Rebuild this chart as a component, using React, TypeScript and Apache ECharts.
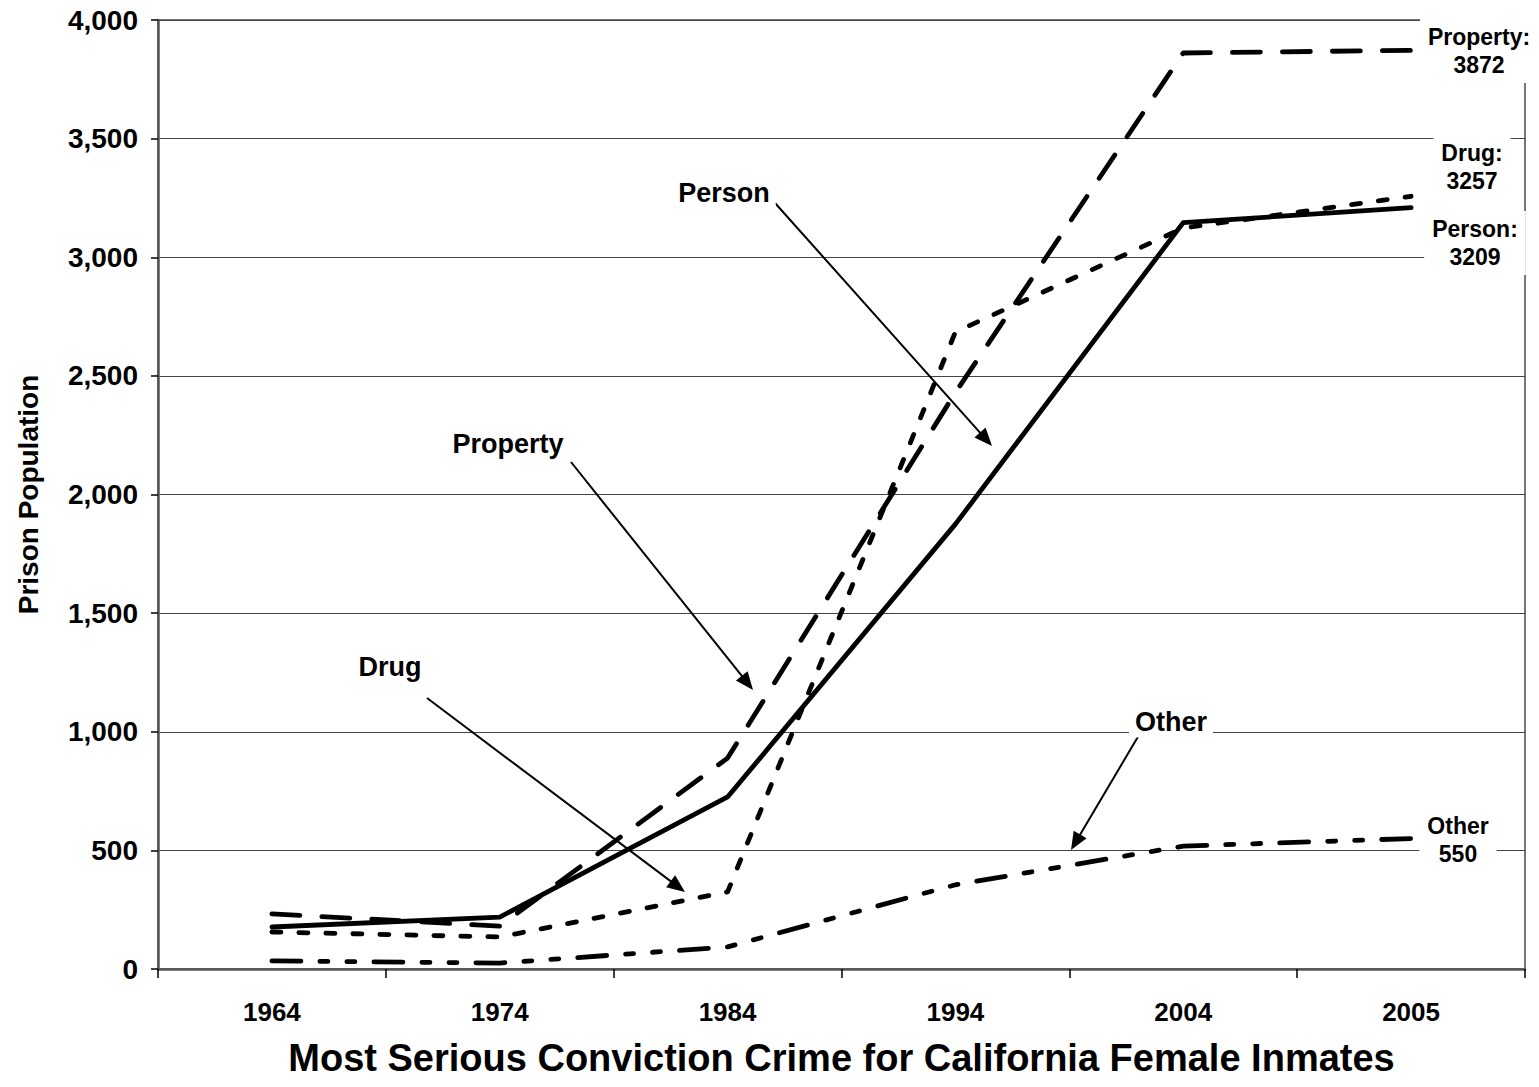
import React, { useEffect, useRef } from "react";
import * as echarts from "echarts";

const years = ["1964", "1974", "1984", "1994", "2004", "2005"];
const person = [177, 219, 725, 1875, 3146, 3209];
const property = [232, 181, 889, 2430, 3861, 3872];
const drug = [156, 135, 325, 2685, 3123, 3257];
const other = [34, 25, 93, 355, 518, 550];

const FONT = "'Liberation Sans', Arial, sans-serif";

type Ann = { text: string; tx: number; ty: number; ax: number; ay: number; bx: number; by: number };
const annotations: Ann[] = [
  { text: "Person", tx: 724, ty: 193, ax: 775, ay: 203, bx: 992, by: 446 },
  { text: "Property", tx: 508, ty: 444, ax: 571, ay: 462, bx: 753, by: 690 },
  { text: "Drug", tx: 390, ty: 667, ax: 427, ay: 698, bx: 685, by: 892 },
  { text: "Other", tx: 1171, ty: 722, ax: 1139, ay: 735, bx: 1071, by: 850 },
];

const endLabels = [
  { text: `Property:\n${property[5]}`, x: 1479, y: 51 },
  { text: `Drug:\n${drug[5]}`, x: 1472, y: 167 },
  { text: `Person:\n${person[5]}`, x: 1475, y: 243 },
  { text: `Other\n${other[5]}`, x: 1458, y: 840 },
];

function arrow(a: Ann) {
  const dx = a.bx - a.ax;
  const dy = a.by - a.ay;
  const len = Math.sqrt(dx * dx + dy * dy);
  const ux = dx / len;
  const uy = dy / len;
  const hl = 18;
  const hw = 7.5;
  const baseX = a.bx - ux * hl;
  const baseY = a.by - uy * hl;
  const nx = -uy;
  const ny = ux;
  return [
    {
      type: "line",
      z: 100,
      shape: { x1: a.ax, y1: a.ay, x2: baseX + ux * 2, y2: baseY + uy * 2 },
      style: { stroke: "#000", lineWidth: 2 },
    },
    {
      type: "polygon",
      z: 100,
      shape: {
        points: [
          [a.bx, a.by],
          [baseX + nx * hw, baseY + ny * hw],
          [baseX - nx * hw, baseY - ny * hw],
        ],
      },
      style: { fill: "#000" },
    },
  ];
}

export default function App() {
  const ref = useRef<HTMLDivElement>(null);
  useEffect(() => {
    if (!ref.current) return;
    const chart = echarts.init(ref.current, null, { renderer: "svg" });
    const lineSeries = (name: string, data: number[], type: any, z: number) => ({
      name,
      type: "line",
      data,
      symbol: "none",
      z,
      lineStyle: { color: "#000", width: 4.8, type, cap: "round", join: "round" },
    });
    const graphic: any[] = [];
    annotations.forEach((a) => {
      graphic.push(...arrow(a));
      graphic.push({
        type: "text",
        z: 101,
        x: a.tx,
        y: a.ty,
        style: {
          text: a.text,
          font: `bold 27px ${FONT}`,
          fill: "#000",
          align: "center",
          verticalAlign: "middle",
          backgroundColor: "#fff",
          padding: [2, 6],
        },
      });
    });
    endLabels.forEach((l) => {
      graphic.push({
        type: "text",
        z: 101,
        x: l.x,
        y: l.y,
        style: {
          text: l.text,
          font: `bold 23px ${FONT}`,
          lineHeight: 28,
          fill: "#000",
          align: "center",
          verticalAlign: "middle",
          backgroundColor: "#fff",
          padding: [4, 8],
        },
      });
    });
    chart.setOption({
      animation: false,
      backgroundColor: "#fff",
      grid: {
        left: 158,
        right: 14,
        top: 20,
        bottom: 118,
        show: true,
        borderColor: "#777",
        borderWidth: 2,
        backgroundColor: "transparent",
        outerBoundsMode: "none",
        containLabel: false,
      },
      xAxis: {
        type: "category",
        data: years,
        boundaryGap: true,
        name: "Most Serious Conviction Crime for California Female Inmates",
        nameLocation: "middle",
        nameGap: 70,
        nameTextStyle: { fontFamily: FONT, fontWeight: "bold", fontSize: 38, color: "#000" },
        axisLine: { lineStyle: { color: "#555", width: 2.5 } },
        axisTick: { show: true, length: 9, lineStyle: { color: "#000", width: 1.5 } },
        axisLabel: { fontFamily: FONT, fontWeight: "bold", fontSize: 26, color: "#000", margin: 30 },
        splitLine: { show: false },
      },
      yAxis: {
        type: "value",
        min: 0,
        max: 4000,
        interval: 500,
        name: "Prison Population",
        nameLocation: "middle",
        nameGap: 116,
        nameTextStyle: { fontFamily: FONT, fontWeight: "bold", fontSize: 28, color: "#000" },
        axisLine: { show: true, lineStyle: { color: "#555", width: 2.5 } },
        axisTick: { show: true, length: 7, lineStyle: { color: "#000", width: 1.5 } },
        axisLabel: {
          fontFamily: FONT,
          fontWeight: "bold",
          fontSize: 28,
          color: "#000",
          margin: 20,
          formatter: (v: number) => v.toLocaleString("en-US"),
        },
        splitLine: { show: true, lineStyle: { color: "#444", width: 1.2 } },
      },
      series: [
        lineSeries("Other", other, [29, 19, 8, 19, 8, 19], 3),
        lineSeries("Drug", drug, [9, 18], 4),
        lineSeries("Property", property, [28, 22], 5),
        lineSeries("Person", person, "solid", 6),
      ],
      graphic,
    });
    return () => chart.dispose();
  }, []);
  return (
    <div
      ref={ref}
      style={{ position: "fixed", left: 0, top: 0, width: 1539, height: 1087, background: "#fff" }}
    />
  );
}
